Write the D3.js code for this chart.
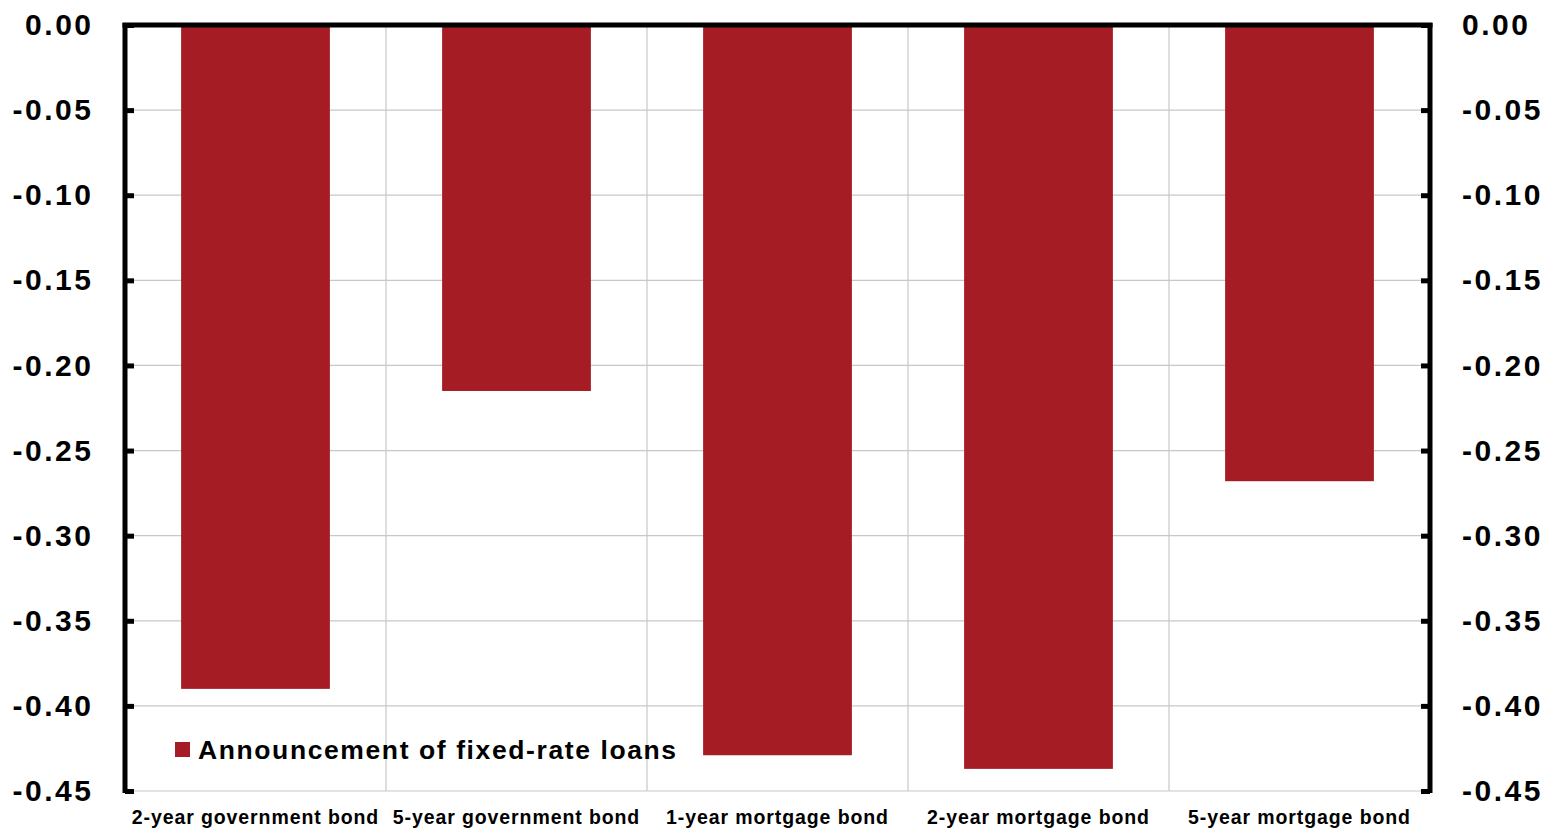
<!DOCTYPE html>
<html>
<head>
<meta charset="utf-8">
<script src="https://cdn.jsdelivr.net/npm/d3@7"></script>
<style>
  body { margin: 0; background: #fff; }
  text { font-family: "Liberation Sans", Arial, sans-serif; font-weight: bold; }
</style>
</head>
<body>
<div id="chart"></div>
<script>
var categories = ["2-year government bond", "5-year government bond", "1-year mortgage bond", "2-year mortgage bond", "5-year mortgage bond"];
var values = [-0.39, -0.215, -0.429, -0.437, -0.268];
var yTicks = [0, -0.05, -0.10, -0.15, -0.20, -0.25, -0.30, -0.35, -0.40, -0.45];
var seriesName = "Announcement of fixed-rate loans";

var width = 1552, height = 828;
var margin = { top: 25, left: 125, right: 122, bottom: 37 };
var barColor = "#a51c24";

var svg = d3.select("#chart").append("svg")
    .attr("width", width)
    .attr("height", height);

var x = d3.scaleBand()
    .domain(categories)
    .range([margin.left, width - margin.right])
    .paddingInner(0.43)
    .paddingOuter(0.215);

var y = d3.scaleLinear()
    .domain([0, -0.45])
    .range([margin.top, height - margin.bottom]);

var x0 = margin.left, x1 = width - margin.right;
var gap = x.step() - x.bandwidth();

// gridlines
svg.append("g").selectAll("line")
    .data(yTicks.slice(1))
    .enter().append("line")
    .attr("x1", x0).attr("x2", x1)
    .attr("y1", function (d) { return y(d); })
    .attr("y2", function (d) { return y(d); })
    .attr("stroke", "#c8c8c8").attr("stroke-width", 1.2);

svg.append("g").selectAll("line")
    .data(categories.slice(1))
    .enter().append("line")
    .attr("x1", function (d) { return x(d) - gap / 2; })
    .attr("x2", function (d) { return x(d) - gap / 2; })
    .attr("y1", margin.top).attr("y2", y(-0.45))
    .attr("stroke", "#c8c8c8").attr("stroke-width", 1.2);

// bars
svg.append("g").selectAll("rect")
    .data(values)
    .enter().append("rect")
    .attr("x", function (d, i) { return x(categories[i]); })
    .attr("width", x.bandwidth())
    .attr("y", y(0))
    .attr("height", function (d) { return y(d) - y(0); })
    .attr("fill", barColor);

// axes
var fmt = function (d) { return d3.format(".2f")(d).replace("−", "-"); };
var left = svg.append("g")
    .attr("transform", "translate(" + x0 + ",0)")
    .call(d3.axisLeft(y).tickValues(yTicks).tickFormat(fmt).tickSizeInner(-9).tickSizeOuter(0).tickPadding(31.5));
var right = svg.append("g")
    .attr("transform", "translate(" + x1 + ",0)")
    .call(d3.axisRight(y).tickValues(yTicks).tickFormat(fmt).tickSizeInner(-9).tickSizeOuter(0).tickPadding(32));

[left, right].forEach(function (g) {
    g.select(".domain").attr("stroke", "#000").attr("stroke-width", 5)
        .attr("d", "M0," + (margin.top - 2) + "V" + (y(-0.45) + 2));
    g.selectAll(".tick line").attr("stroke", "#000").attr("stroke-width", 5);
    g.selectAll(".tick text")
        .attr("fill", "#000")
        .style("font-size", "30px")
        .style("letter-spacing", "2.5px");
});

// top frame line
svg.append("line")
    .attr("x1", x0 - 2.5).attr("x2", x1 + 2.5)
    .attr("y1", margin.top).attr("y2", margin.top)
    .attr("stroke", "#000").attr("stroke-width", 5);

// category labels
svg.append("g").selectAll("text")
    .data(categories)
    .enter().append("text")
    .attr("x", function (d) { return x(d) + x.bandwidth() / 2; })
    .attr("y", 824)
    .attr("text-anchor", "middle")
    .style("font-size", "19.5px")
    .style("letter-spacing", "0.9px")
    .text(function (d) { return d; });

// legend
svg.append("rect")
    .attr("x", 175).attr("y", 742)
    .attr("width", 15).attr("height", 15)
    .attr("fill", barColor);
svg.append("text")
    .attr("x", 198).attr("y", 759)
    .style("font-size", "26.5px")
    .style("letter-spacing", "1.6px")
    .text(seriesName);
</script>
</body>
</html>
